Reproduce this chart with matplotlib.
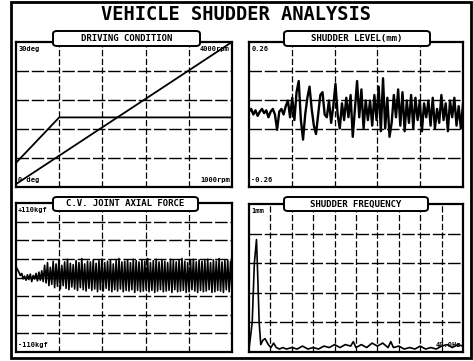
import numpy as np
import matplotlib
matplotlib.use("Agg")
import matplotlib.pyplot as plt
from matplotlib.patches import FancyBboxPatch, Rectangle

plt.rcParams['font.family'] = 'DejaVu Sans Mono'
plt.rcParams['font.weight'] = 'bold'

# driving condition (time fraction, engine speed rpm / throttle deg)
drive_t_speed = [0.0, 1.0]
engine_rpm = [1060, 4000]
drive_t_thr = [0.0, 0.2, 1.0]
throttle_deg = [5.0, 14.4, 14.4]

# shudder level trace (mm)
shudder_mm = [0.01, 0.02, 0.0, 0.015, -0.005, 0.01, 0.02, 0.005, 0.015, -0.01,
              0.01, 0.02, 0.0, -0.055, 0.01, 0.02, 0.0, 0.03, 0.05, -0.01,
              0.06, -0.02, 0.08, 0.12, -0.02, -0.09, 0.0, 0.06, 0.10, 0.02,
              -0.04, -0.07, 0.0, 0.07, 0.08, 0.0, -0.01, 0.05, -0.03, 0.03,
              0.11, 0.0, -0.05, 0.04, -0.02, 0.06, -0.01, 0.07, -0.08, 0.02,
              0.12, -0.01, 0.09, -0.05, 0.05, -0.02, 0.05, -0.04, 0.07, -0.02,
              0.10, -0.06, 0.13, -0.05, 0.06, -0.08, -0.03, 0.07, -0.01, 0.09,
              -0.04, 0.08, -0.06, 0.05, -0.03, 0.07, -0.05, 0.06, -0.02, 0.05,
              -0.06, 0.04, -0.01, 0.05, -0.04, 0.06, -0.05, 0.02, -0.03, 0.07,
              -0.02, 0.04, -0.06, 0.05, -0.01, 0.06, -0.04, 0.03, -0.05, 0.04]

# C.V. joint axial force (kgf): slow start, then dense oscillation peaks / troughs
force_start = [16, 12, 8, 3, 6, -2, 2, -4, 4, -3, 5, -6, 3, -2, 6, -5, 8, -4, 10, -6]
force_peaks = [18, 22, 15, 24, 20, 26, 18, 23, 27, 21, 19, 25, 22, 28, 20, 24, 23, 26,
               21, 25, 27, 22, 24, 26, 20, 25, 28, 23, 24, 26, 22, 27, 25, 23, 26, 24,
               28, 22, 25, 27, 23, 26, 24, 22, 27, 25, 23, 26, 28, 24, 22, 25, 27, 23,
               26, 24, 25, 27, 22, 26, 24, 28, 23, 25, 26, 24]
force_troughs = [-8, -12, -10, -15, -13, -17, -12, -16, -18, -14, -17, -19, -15, -18,
                 -20, -16, -19, -17, -21, -18, -20, -16, -19, -21, -18, -20, -17, -21,
                 -19, -20, -18, -22, -19, -21, -20, -18, -21, -19, -22, -20, -18, -21,
                 -20, -19, -22, -18, -21, -20, -19, -22, -21, -18, -20, -22, -19, -21,
                 -20, -18, -22, -21, -19, -20, -22, -18, -21, -20]

# shudder frequency spectrum
freq_hz = [0.0, 0.6, 1.0, 1.4, 1.6, 1.9, 2.2, 2.6, 3.0, 3.6, 4.1, 4.6, 5.1, 5.7, 6.3,
           7.0, 8.0, 9.0, 10.0, 11.0, 12.0, 13.0, 14.0, 15.0, 16.0, 17.0, 18.0, 19.0,
           19.5, 20.0, 21.0, 22.0, 23.0, 24.0, 25.0, 26.0, 26.5, 27.0, 28.0, 29.0,
           30.0, 31.0, 32.0, 33.0, 34.0, 35.0, 36.0, 37.0, 38.0, 39.0, 40.0]
freq_amp = [0.02, 0.2, 0.6, 0.76, 0.55, 0.2, 0.05, 0.08, 0.09, 0.05, 0.03, 0.06, 0.03,
            0.02, 0.03, 0.02, 0.03, 0.02, 0.04, 0.02, 0.03, 0.02, 0.04, 0.03, 0.05,
            0.03, 0.05, 0.04, 0.07, 0.03, 0.05, 0.03, 0.06, 0.04, 0.06, 0.03, 0.07,
            0.03, 0.04, 0.02, 0.03, 0.02, 0.04, 0.02, 0.03, 0.02, 0.04, 0.05, 0.03,
            0.05, 0.04]

fig = plt.figure(figsize=(4.73, 3.61), dpi=100)
W, H = 473.0, 361.0

def fx(px):
    return px / W

def fy(py):
    return 1 - py / H

# outer frame
fig.patches.append(Rectangle((fx(11), fy(358)), fx(471) - fx(11), fy(2) - fy(358),
                             transform=fig.transFigure, fill=False, lw=2, ec='black'))
fig.text(fx(236), fy(14), 'VEHICLE SHUDDER ANALYSIS', ha='center', va='center',
         fontsize=13.5, fontweight='bold')

def grid(ax, nx, ny):
    x0, x1 = ax.get_xlim()
    y0, y1 = ax.get_ylim()
    for i in range(1, nx):
        ax.axvline(x0 + (x1 - x0) * i / nx, color='black', lw=0.9, ls=(0, (5, 2)), zorder=1)
    for j in range(1, ny):
        ax.axhline(y0 + (y1 - y0) * j / ny, color='black', lw=1.0, ls=(0, (9, 2)), zorder=1)

def title_box(x0, y0, x1, y1, txt):
    fig.patches.append(FancyBboxPatch((fx(x0), fy(y1)), fx(x1) - fx(x0), fy(y0) - fy(y1),
                                      boxstyle='round,pad=0,rounding_size=0.008',
                                      transform=fig.transFigure, fc='white', ec='black',
                                      lw=1.4, zorder=5))
    fig.text((fx(x0) + fx(x1)) / 2, (fy(y0) + fy(y1)) / 2, txt, ha='center', va='center',
             fontsize=6.5, fontweight='bold', zorder=6)

lab = dict(fontsize=5, fontweight='bold')

# top-left: driving condition
ax1 = fig.add_axes([fx(16), fy(187), fx(232) - fx(16), fy(42) - fy(187)])
ax1.set_xlim(0, 1)
ax1.set_ylim(1000, 4000)
grid(ax1, 5, 5)
ax1.plot(drive_t_speed, engine_rpm, color='black', lw=1.3, zorder=3)
ax1.plot(drive_t_thr, np.array(throttle_deg) / 30 * 3000 + 1000, color='black', lw=1.3, zorder=3)
ax1.text(0.01, 0.97, '30deg', transform=ax1.transAxes, va='top', ha='left', **lab)
ax1.text(0.01, 0.03, '0 deg', transform=ax1.transAxes, va='bottom', ha='left', **lab)
ax1.text(0.99, 0.97, '4000rpm', transform=ax1.transAxes, va='top', ha='right', **lab)
ax1.text(0.99, 0.03, '1000rpm', transform=ax1.transAxes, va='bottom', ha='right', **lab)

# top-right: shudder level
ax2 = fig.add_axes([fx(249), fy(187), fx(463) - fx(249), fy(42) - fy(187)])
ax2.set_xlim(0, len(shudder_mm) - 1)
ax2.set_ylim(-0.26, 0.26)
grid(ax2, 5, 5)
ax2.plot(np.arange(len(shudder_mm)), shudder_mm, color='black', lw=1.7, zorder=3)
ax2.text(0.01, 0.97, '0.26', transform=ax2.transAxes, va='top', ha='left', **lab)
ax2.text(0.01, 0.03, '-0.26', transform=ax2.transAxes, va='bottom', ha='left', **lab)

# bottom-left: C.V. joint axial force
force = list(force_start) + list(np.column_stack([force_peaks, force_troughs]).ravel())
ax3 = fig.add_axes([fx(16), fy(352), fx(232) - fx(16), fy(203) - fy(352)])
ax3.set_xlim(0, len(force) - 1)
ax3.set_ylim(-110, 110)
grid(ax3, 5, 8)
ax3.plot(np.arange(len(force)), force, color='black', lw=1.2, zorder=3)
ax3.text(0.01, 0.97, '+110kgf', transform=ax3.transAxes, va='top', ha='left', **lab)
ax3.text(0.01, 0.03, '-110kgf', transform=ax3.transAxes, va='bottom', ha='left', **lab)

# bottom-right: shudder frequency
ax4 = fig.add_axes([fx(249), fy(352), fx(463) - fx(249), fy(204) - fy(352)])
ax4.set_xlim(0, 40)
ax4.set_ylim(0, 1)
grid(ax4, 10, 5)
ax4.plot(freq_hz, freq_amp, color='black', lw=1.2, zorder=3)
ax4.text(0.01, 0.97, '1mm', transform=ax4.transAxes, va='top', ha='left', **lab)
ax4.text(0.99, 0.03, '40.0Hz', transform=ax4.transAxes, va='bottom', ha='right', **lab)

for ax in (ax1, ax2, ax3, ax4):
    ax.set_xticks([])
    ax.set_yticks([])
    for s in ax.spines.values():
        s.set_linewidth(1.6)

title_box(53, 31, 200, 46, 'DRIVING CONDITION')
title_box(284, 31, 430, 46, 'SHUDDER LEVEL(mm)')
title_box(53, 197, 198, 211, 'C.V. JOINT AXIAL FORCE')
title_box(284, 197, 428, 211, 'SHUDDER FREQUENCY')

fig.savefig('out.png', dpi=100)
